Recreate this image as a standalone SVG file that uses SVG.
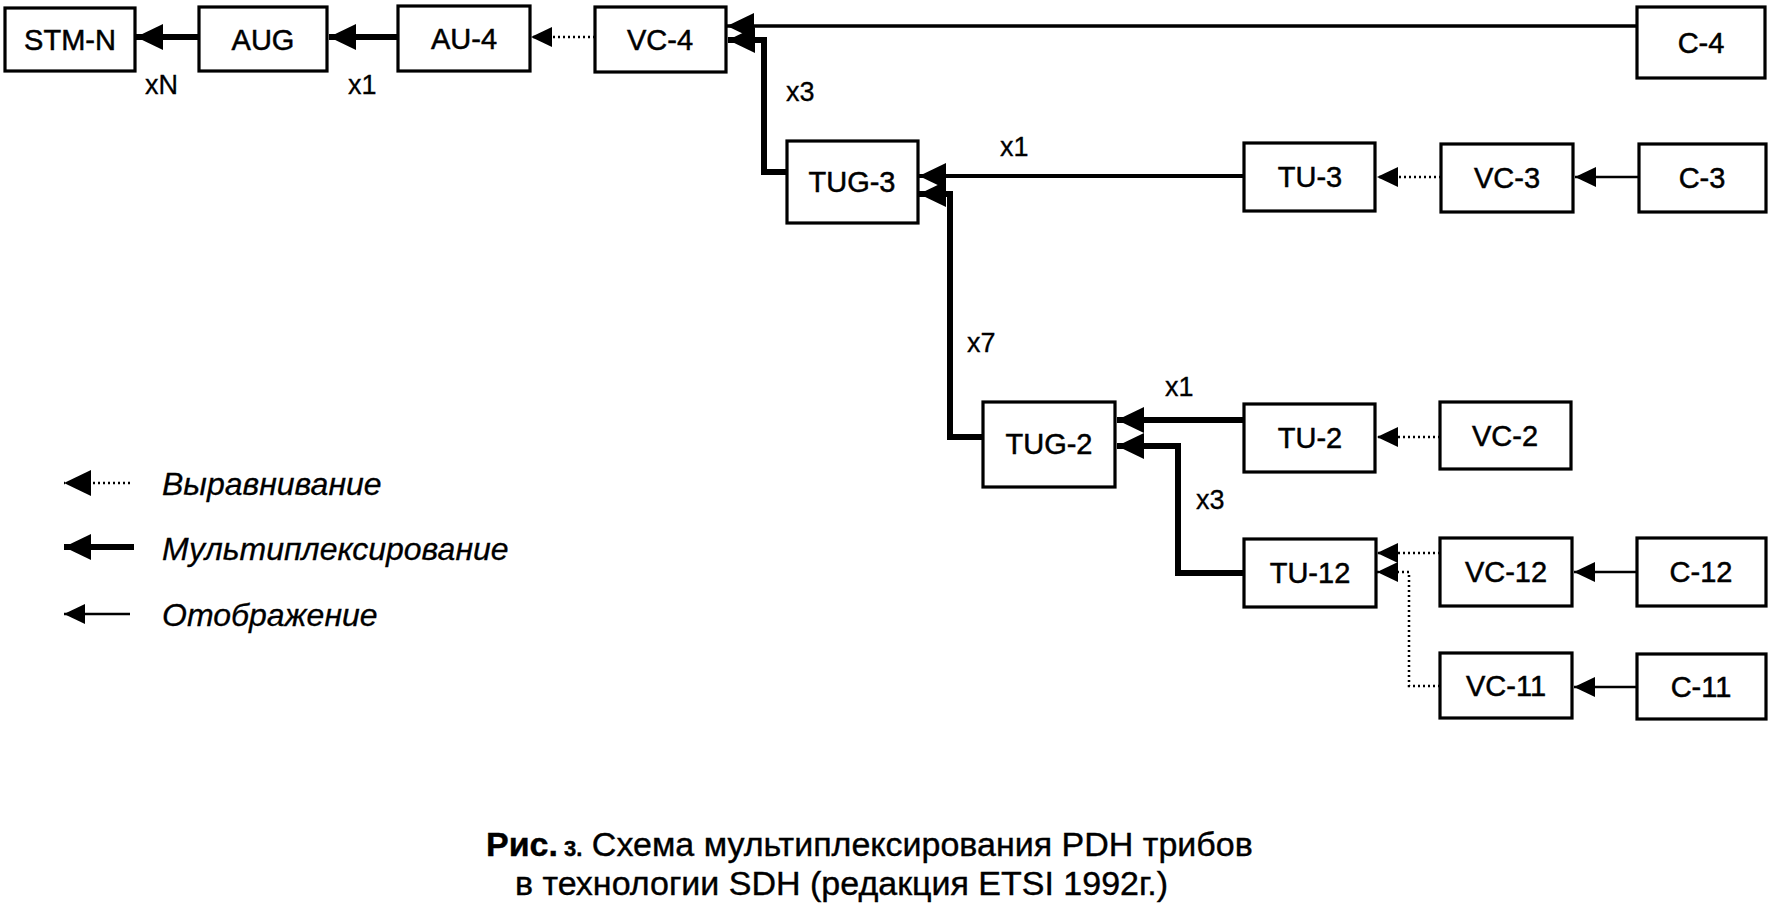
<svg xmlns="http://www.w3.org/2000/svg" width="1774" height="908" viewBox="0 0 1774 908">
<style>
.box{fill:#fff;stroke:#000;stroke-width:3.2}
.bt{font-family:"Liberation Sans",Arial,sans-serif;font-size:29px;fill:#000;text-anchor:middle;stroke:#000;stroke-width:0.5}
.lbl{font-family:"Liberation Sans",Arial,sans-serif;font-size:27px;fill:#000;stroke:#000;stroke-width:0.3}
.leg{font-family:"Liberation Sans",Arial,sans-serif;font-size:32px;font-style:italic;fill:#000;stroke:#000;stroke-width:0.3}
.cap{font-family:"Liberation Sans",Arial,sans-serif;font-size:34px;fill:#000;stroke:#000;stroke-width:0.4}
.mux{fill:none;stroke:#000;stroke-width:6;marker-end:url(#big)}
.map{fill:none;stroke:#000;stroke-width:2.5;marker-end:url(#small)}
.aln{fill:none;stroke:#000;stroke-width:2.5;stroke-dasharray:2 3;marker-end:url(#small)}
</style>
<defs>
<marker id="big" markerUnits="userSpaceOnUse" markerWidth="28" markerHeight="28" refX="27" refY="13" orient="auto">
<path d="M0,0 L27,13 L0,26 z" fill="#000"/>
</marker>
<marker id="small" markerUnits="userSpaceOnUse" markerWidth="22" markerHeight="22" refX="21" refY="10" orient="auto">
<path d="M0,0 L21,10 L0,20 z" fill="#000"/>
</marker>
</defs>
<rect width="1774" height="908" fill="#fff"/>

<g id="connectors">
<path class="mux" d="M201,37 H136"/>
<path class="mux" d="M397,37 H329"/>
<path class="aln" d="M595,37 H531"/>
<path class="map" d="M1637,26 H727" style="stroke-width:3.5;marker-end:url(#big)"/>
<path class="mux" d="M787,172 H764 V40 H728"/>
<path class="map" d="M1244,176 H919" style="stroke-width:4;marker-end:url(#big)"/>
<path class="mux" d="M983,437 H950 V194 H919"/>
<path class="aln" d="M1441,177 H1377"/>
<path class="map" d="M1639,177 H1575"/>
<path class="mux" d="M1244,420 H1117"/>
<path class="mux" d="M1244,573 H1178 V446 H1117"/>
<path class="aln" d="M1440,437 H1377"/>
<path class="aln" d="M1440,553 H1377"/>
<path class="aln" d="M1440,686 H1409 V572 H1377"/>
<path class="map" d="M1637,572 H1574"/>
<path class="map" d="M1637,687 H1574"/>
</g>

<g id="labels">
<text class="lbl" x="145" y="94">xN</text>
<text class="lbl" x="348" y="94">x1</text>
<text class="lbl" x="786" y="101">x3</text>
<text class="lbl" x="1000" y="156">x1</text>
<text class="lbl" x="967" y="352">x7</text>
<text class="lbl" x="1165" y="396">x1</text>
<text class="lbl" x="1196" y="509">x3</text>
</g>

<g id="n-stm"><rect class="box" x="5" y="8" width="130" height="63"/><text class="bt" x="70" y="50">STM-N</text></g>
<g id="n-aug"><rect class="box" x="199" y="7" width="128" height="64"/><text class="bt" x="263" y="50">AUG</text></g>
<g id="n-au4"><rect class="box" x="398" y="6" width="132" height="65"/><text class="bt" x="464" y="49">AU-4</text></g>
<g id="n-vc4"><rect class="box" x="595" y="7" width="131" height="65"/><text class="bt" x="660" y="50">VC-4</text></g>
<g id="n-c4"><rect class="box" x="1637" y="7" width="128" height="71"/><text class="bt" x="1701" y="53">C-4</text></g>
<g id="n-tug3"><rect class="box" x="787" y="141" width="131" height="82"/><text class="bt" x="852" y="192">TUG-3</text></g>
<g id="n-tu3"><rect class="box" x="1244" y="143" width="131" height="68"/><text class="bt" x="1310" y="187">TU-3</text></g>
<g id="n-vc3"><rect class="box" x="1441" y="144" width="132" height="68"/><text class="bt" x="1507" y="188">VC-3</text></g>
<g id="n-c3"><rect class="box" x="1639" y="144" width="127" height="68"/><text class="bt" x="1702" y="188">C-3</text></g>
<g id="n-tug2"><rect class="box" x="983" y="402" width="132" height="85"/><text class="bt" x="1049" y="454">TUG-2</text></g>
<g id="n-tu2"><rect class="box" x="1244" y="404" width="131" height="68"/><text class="bt" x="1310" y="448">TU-2</text></g>
<g id="n-vc2"><rect class="box" x="1440" y="402" width="131" height="67"/><text class="bt" x="1505" y="446">VC-2</text></g>
<g id="n-tu12"><rect class="box" x="1244" y="539" width="132" height="68"/><text class="bt" x="1310" y="583">TU-12</text></g>
<g id="n-vc12"><rect class="box" x="1440" y="538" width="132" height="68"/><text class="bt" x="1506" y="582">VC-12</text></g>
<g id="n-c12"><rect class="box" x="1637" y="538" width="129" height="68"/><text class="bt" x="1701" y="582">C-12</text></g>
<g id="n-vc11"><rect class="box" x="1440" y="653" width="132" height="65"/><text class="bt" x="1506" y="696">VC-11</text></g>
<g id="n-c11"><rect class="box" x="1637" y="654" width="129" height="65"/><text class="bt" x="1701" y="697">C-11</text></g>

<g id="legend">
<path class="aln" d="M130,483 H64" style="marker-end:url(#big)"/>
<text class="leg" x="162" y="495">Выравнивание</text>
<path d="M134,547 H64" fill="none" stroke="#000" stroke-width="6" marker-end="url(#big)"/>
<text class="leg" x="162" y="560">Мультиплексирование</text>
<path class="map" d="M130,614 H64"/>
<text class="leg" x="162" y="626">Отображение</text>
</g>

<g id="caption">
<text class="cap" x="486" y="856"><tspan font-weight="bold">Рис.</tspan><tspan font-size="22px" font-weight="bold"> 3.</tspan> Схема мультиплексирования PDH трибов</text>
<text class="cap" x="515" y="895">в технологии SDH (редакция ETSI 1992г.)</text>
</g>
</svg>
